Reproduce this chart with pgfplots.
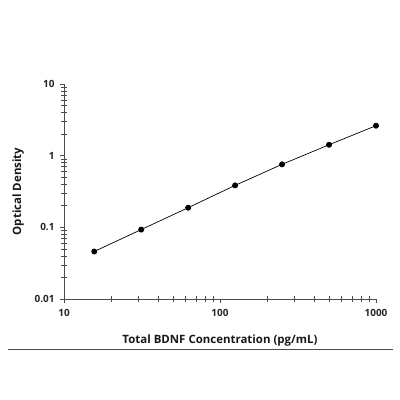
\documentclass[border=0pt]{standalone}
\usepackage{fontspec}
\setmainfont{Open Sans}
\usepackage{pgfplots}
\pgfplotsset{compat=1.18}
\begin{document}
\begin{tikzpicture}
\path[use as bounding box] (-64bp,-101bp) rectangle (336bp,299bp);
\begin{axis}[
  at={(0,0)}, anchor=south west,
  scale only axis, width=312bp, height=215bp,
  xmode=log, ymode=log,
  xmin=10, xmax=1000, ymin=0.01, ymax=10,
  axis lines=left,
  axis line style={draw=black!70, line width=0.8pt, -},
  xtick={10,100,1000}, ytick={0.01,0.1,1,10},
  xticklabels={10,100,1000}, yticklabels={0.01,0.1,1,10},
  major tick length=4bp, minor tick length=3bp,
  every tick/.style={draw=black!70, line width=0.6pt},
  xtick align=outside, ytick align=outside,
  minor tick num=0,
  tick label style={font=\fontsize{10}{12}\selectfont\bfseries, text=black!85},
  xticklabel style={yshift=-3bp},
  yticklabel style={xshift=-2bp},
  xlabel={Total BDNF Concentration (pg/mL)},
  ylabel={Optical Density},
  label style={font=\fontsize{11.5}{13}\selectfont\bfseries, text=black!90},
  xlabel style={at={(axis description cs:0.5,-0.195)}, anchor=center},
  ylabel style={at={(axis description cs:-0.147,0.5)}, anchor=center, rotate=0},
  clip=false,
  extra x ticks={20,30,40,50,60,70,80,90,200,300,400,500,600,700,800,900},
  extra x tick labels={},
  extra x tick style={tick align=inside, major tick length=3bp},
  extra y ticks={0.02,0.03,0.04,0.05,0.06,0.07,0.08,0.09,0.2,0.3,0.4,0.5,0.6,0.7,0.8,0.9,2,3,4,5,6,7,8,9},
  extra y tick labels={},
  extra y tick style={tick align=inside, major tick length=3bp},
]
\addplot[black, line width=0.7pt, mark=*, mark size=2.6bp] coordinates {
(15.625,0.046) (31.25,0.093) (62.5,0.188) (125,0.385) (250,0.757) (500,1.42) (1000,2.62)
};
\end{axis}
\draw[black!70, line width=0.8pt] (-56bp,-50bp) -- (329bp,-50bp);
\end{tikzpicture}
\end{document}
